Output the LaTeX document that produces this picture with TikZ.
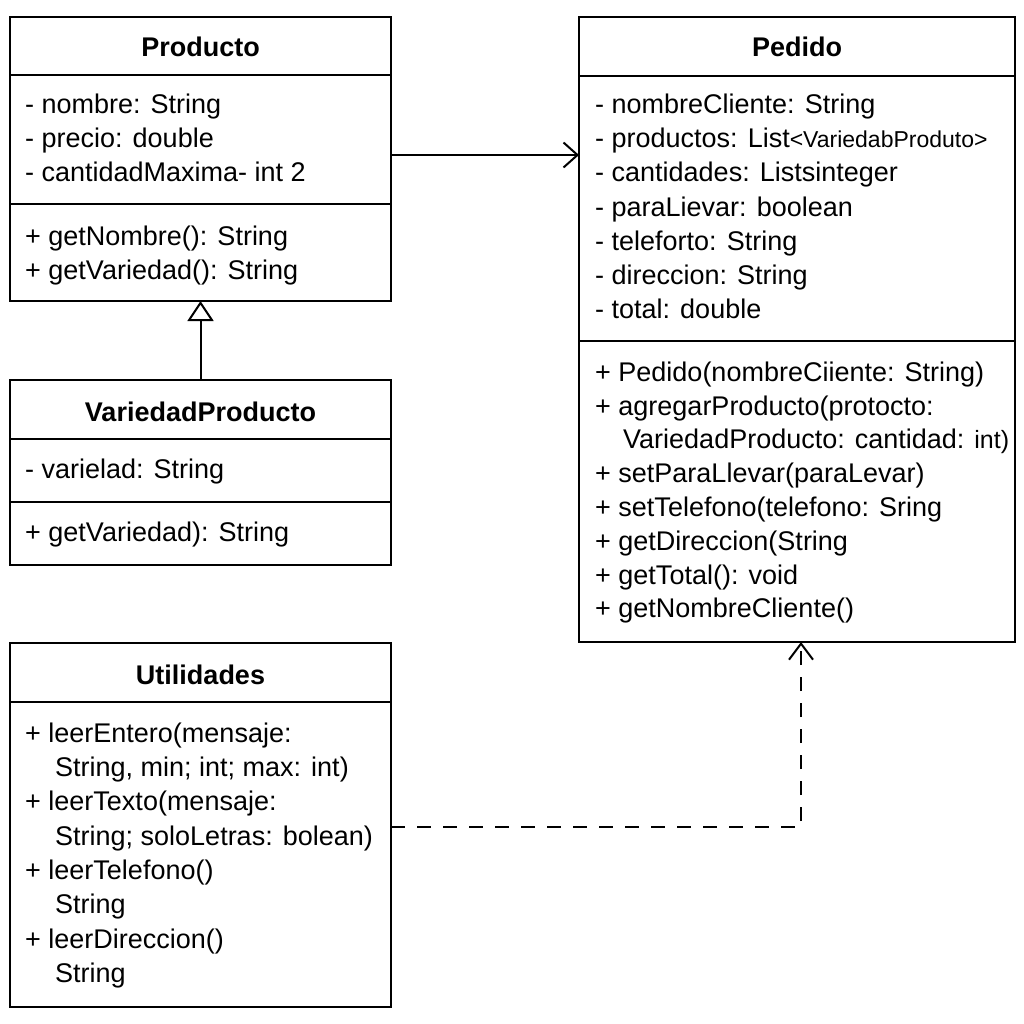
\documentclass[tikz,border=0pt]{standalone}
\usepackage{fontspec}
\setmainfont{Liberation Sans}
\usetikzlibrary{arrows.meta,calc}
\begin{document}
\begin{tikzpicture}[x=1pt,y=-1pt,
  umlbox/.style={draw, line width=2pt, rectangle, anchor=north west, inner sep=0pt, outer sep=0pt},
  ttl/.style={font=\fontsize{27}{27}\selectfont\bfseries, anchor=base, inner sep=0pt},
  mem/.style={font=\fontsize{27}{27}\selectfont, anchor=base west, inner sep=0pt},
  conn/.style={line width=2pt},
  divider/.style={line width=2pt}]
\useasboundingbox (0,0) rectangle (1024,1024);
\fill[white] (0,0) rectangle (1024,1024);

% boxes
\node[umlbox, minimum width=381pt, minimum height=284pt] (producto) at (10,17) {};
\node[umlbox, minimum width=436pt, minimum height=625pt] (pedido) at (579,17) {};
\node[umlbox, minimum width=381pt, minimum height=185pt] (variedad) at (10,380) {};
\node[umlbox, minimum width=381pt, minimum height=364pt] (utilidades) at (10,643) {};

% dividers
\draw[divider] (producto.west |- 0,75) -- (producto.east |- 0,75);
\draw[divider] (producto.west |- 0,204) -- (producto.east |- 0,204);
\draw[divider] (pedido.west |- 0,76) -- (pedido.east |- 0,76);
\draw[divider] (pedido.west |- 0,341) -- (pedido.east |- 0,341);
\draw[divider] (variedad.west |- 0,439) -- (variedad.east |- 0,439);
\draw[divider] (variedad.west |- 0,502) -- (variedad.east |- 0,502);
\draw[divider] (utilidades.west |- 0,702) -- (utilidades.east |- 0,702);

% titles
\node[ttl] (tprod) at (200.5,57) {Producto};
\node[ttl] (tped) at (797,57) {Pedido};
\node[ttl] (tvar) at (200.5,421) {VariedadProducto};
\node[ttl] (tutil) at (200.5,684) {Utilidades};

% Producto members
\node[mem] (p1) at (25,114) {- nombre: String};
\node[mem] (p2) at (25,148) {- precio: double};
\node[mem] (p3) at (25,182) {- cantidadMaxima- int 2};
\node[mem] (p4) at (25,245) {+ getNombre(): String};
\node[mem] (p5) at (25,279) {+ getVariedad(): String};

% Pedido members
\node[mem] (d1) at (595,114) {- nombreCliente: String};
\node[mem] (d2) at (595,148) {- productos: List{\fontsize{23}{23}\selectfont<VariedabProduto>}};
\node[mem] (d3) at (595,182) {- cantidades: Listsinteger};
\node[mem] (d4) at (595,217) {- paraLievar: boolean};
\node[mem] (d5) at (595,251) {- teleforto: String};
\node[mem] (d6) at (595,284) {- direccion: String};
\node[mem] (d7) at (595,318) {- total: double};
\node[mem] (m1) at (595,381) {+ Pedido(nombreCiiente: String)};
\node[mem] (m2) at (595,415) {+ agregarProducto(protocto:};
\node[mem] (m3) at (623,448) {VariedadProducto: cantidad: {\fontsize{25}{25}\selectfont int)}};
\node[mem] (m4) at (595,482) {+ setParaLlevar(paraLevar)};
\node[mem] (m5) at (595,516) {+ setTelefono(telefono: Sring};
\node[mem] (m6) at (595,550) {+ getDireccion(String};
\node[mem] (m7) at (595,584) {+ getTotal(): void};
\node[mem] (m8) at (595,617) {+ getNombreCliente()};

% VariedadProducto members
\node[mem] (v1) at (25,478) {- varielad: String};
\node[mem] (v2) at (25,541) {+ getVariedad): String};

% Utilidades members
\node[mem] (u1) at (25,742) {+ leerEntero(mensaje:};
\node[mem] (u2) at (55,776) {String, min; int; max: int)};
\node[mem] (u3) at (25,810) {+ leerTexto(mensaje:};
\node[mem] (u4) at (55,845) {String; soloLetras: bolean)};
\node[mem] (u5) at (25,879) {+ leerTelefono()};
\node[mem] (u6) at (55,913) {String};
\node[mem] (u7) at (25,948) {+ leerDireccion()};
\node[mem] (u8) at (55,982) {String};

% connectors
\draw[conn, -{Straight Barb[length=14pt,width=25pt,line width=2pt]}]
  (producto.east |- 0,155) -- (pedido.west |- 0,155);
\draw[conn, -{Triangle[open,length=20pt,width=26pt,line width=2pt]}]
  (variedad.north) -- (producto.south);
\coordinate (dashend) at ($(pedido.south)+(4,0)$);
\draw[conn, dash pattern=on 14pt off 12pt, -{Straight Barb[length=16pt,width=24pt,line width=2pt]}]
  (utilidades.east |- 0,827) -| (dashend);
\end{tikzpicture}
\end{document}
